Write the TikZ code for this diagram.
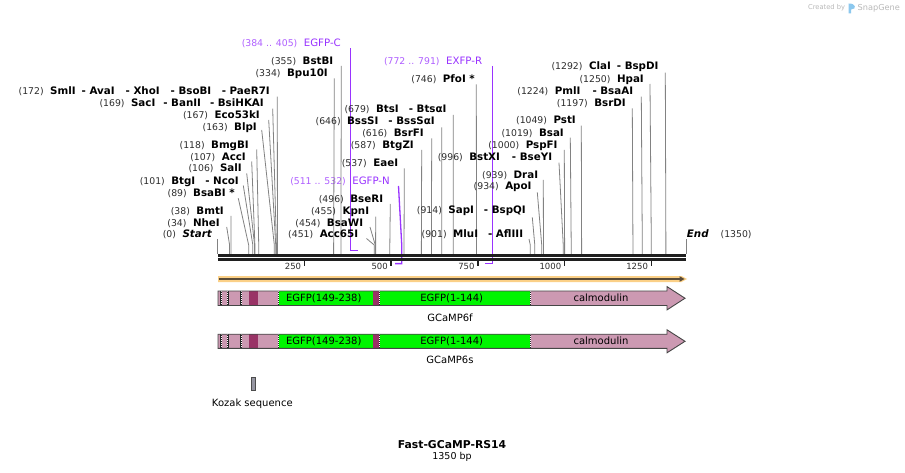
\documentclass[tikz,border=0pt]{standalone}
\usepackage{fontspec}
\setmainfont{DejaVu Sans}
\usetikzlibrary{calc}
\definecolor{lnGray}{RGB}{130,130,130}
\definecolor{numGray}{RGB}{45,45,45}
\definecolor{prim}{RGB}{153,51,255}
\definecolor{primnum}{RGB}{175,95,255}
\definecolor{featPink}{RGB}{204,153,178}
\definecolor{featMaroon}{RGB}{153,51,102}
\definecolor{featGreen}{RGB}{0,245,0}
\definecolor{featLine}{RGB}{70,70,70}
\definecolor{orangeBand}{RGB}{251,208,135}
\definecolor{bandDark}{RGB}{90,75,55}
\definecolor{kozakGray}{RGB}{150,150,162}
\definecolor{creditGray}{RGB}{185,185,185}
\definecolor{logoBlue}{RGB}{140,200,238}
\newcommand\numf[1]{{\fontsize{9.3}{10}\selectfont\color{numGray}#1}}
\newcommand\enzf[1]{{\fontsize{10.3}{12}\selectfont\bfseries #1}}
\newcommand\sep{\hspace{6.5pt}}
\newcommand\hsep{\hspace{10pt}}
\newcommand\bpx[1]{217.8+#1*0.34681}
\tikzset{
  enzlab/.style={anchor=east,inner sep=0pt,text height=7.5pt,text depth=0pt},
  enzline/.style={draw=lnGray,line width=0.8pt},
  primline/.style={draw=prim,line width=1.3pt},
  featout/.style={draw=featLine,line width=0.9pt},
  divider/.style={line width=1.6pt,draw=black!85},
  dividerw/.style={line width=0.7pt,draw=white,dash pattern=on 1pt off 1pt},
  ticklab/.style={anchor=east,inner sep=0pt,font=\fontsize{8.5}{10}\selectfont,text=numGray},
  featlab/.style={inner sep=0pt,font=\fontsize{10}{12}\selectfont}
}
\newcommand\enz[7]{%
  \node[enzlab] (L#1) at (#2,#3) {#4};
  \coordinate (S#1) at (#6,#7);
  \coordinate (K#1) at ({\bpx{#5}},245);
  \coordinate (R#1) at ({\bpx{#5}},254);
  \draw[enzline] (S#1) -- (K#1) -- (R#1);
}
\newcommand\featbar[2]{% top, bottom
  \fill[featPink] (218,#1) -- (667,#1) -- (667,#1-4.4) -- (685,#1/2+#2/2) -- (667,#2+4.4) -- (667,#2) -- (218,#2) -- cycle;
  \fill[featMaroon] (249.3,#1) rectangle (258.3,#2);
  \fill[featGreen] (278.3,#1) rectangle (373.3,#2);
  \fill[featMaroon] (373.3,#1) rectangle (379.3,#2);
  \fill[featGreen] (379.3,#1) rectangle (530.5,#2);
  \foreach \dx in {221,227.7,241,278.3,379.3,530.5}{
    \draw[divider] (\dx,#1) -- (\dx,#2);
    \draw[dividerw] (\dx,#1) -- (\dx,#2);
  }
  \draw[featout] (218,#1) -- (667,#1) -- (667,#1-4.4) -- (685,#1/2+#2/2) -- (667,#2+4.4) -- (667,#2) -- (218,#2) -- cycle;
}
\begin{document}
\begin{tikzpicture}[x=1pt,y=-1pt]
\useasboundingbox[fill=white] (0,0) rectangle (905,473);

% credit
\node[anchor=west,inner sep=0pt,text=creditGray,font=\fontsize{6.7}{8}\selectfont] (cred) at (808,8) {Created by};
\fill[logoBlue] (848.5,13.5) -- (848.5,3.5) .. controls (856,3) and (857,9.5) .. (851.2,9.5) -- (851.2,13.5) -- cycle;
\node[anchor=west,inner sep=0pt,text=creditGray,font=\fontsize{8.2}{9}\selectfont] (snap) at (857.5,8) {SnapGene};

% primers
\node[enzlab] (P1) at (341,43) {{\fontsize{9.3}{10}\selectfont\color{primnum}(384 .. 405)}\sep{\fontsize{10.2}{12}\selectfont\color{prim}EGFP-C}};
\coordinate (P1a) at (350.3,48.5);
\coordinate (P1b) at (350.3,250.7);
\coordinate (P1c) at (357.6,250.7);
\draw[primline] (P1a) -- (P1b) -- (P1c);

\node[enzlab] (P2) at (390,181) {{\fontsize{9.3}{10}\selectfont\color{primnum}(511 .. 532)}\sep{\fontsize{10.2}{12}\selectfont\color{prim}EGFP-N}};
\coordinate (P2a) at (398.5,186);
\coordinate (P2b) at (401.8,246);
\coordinate (P2c) at (401.8,263.6);
\coordinate (P2d) at (395,263.6);
\draw[primline] (P2a) -- (P2b) -- (P2c) -- (P2d);

\node[enzlab] (P3) at (482.3,61) {{\fontsize{9.3}{10}\selectfont\color{primnum}(772 .. 791)}\sep{\fontsize{10.2}{12}\selectfont\color{prim}EXFP-R}};
\coordinate (P3a) at (492.3,66);
\coordinate (P3b) at (492.3,263.6);
\coordinate (P3c) at (485.3,263.6);
\draw[primline] (P3a) -- (P3b) -- (P3c);

% enzymes
\enz{1}{212}{234}{\numf{(0)}\sep\enzf{\itshape Start}}{0}{217.8}{239.5}
\enz{2}{220}{222.7}{\numf{(34)}\sep\enzf{NheI}}{34}{226.7}{227}
\enz{3}{224}{211}{\numf{(38)}\sep\enzf{BmtI}}{38}{231}{216}
\enz{4}{235}{192.3}{\numf{(89)}\sep\enzf{BsaBI *}}{89}{238.3}{198.3}
\enz{5}{239}{180.7}{\numf{(101)}\sep\enzf{BtgI\hsep- NcoI}}{101}{243.3}{185.5}
\enz{6}{242}{168}{\numf{(106)}\sep\enzf{SalI}}{106}{246.7}{173.3}
\enz{7}{246}{156.7}{\numf{(107)}\sep\enzf{AccI}}{107}{251.7}{161.5}
\enz{8}{249}{145}{\numf{(118)}\sep\enzf{BmgBI}}{118}{256.7}{149.5}
\enz{9}{257}{126.7}{\numf{(163)}\sep\enzf{BlpI}}{163}{261.7}{130}
\enz{10}{260}{114.3}{\numf{(167)}\sep\enzf{Eco53kI}}{167}{268.7}{120}
\enz{11}{264}{102.3}{\numf{(169)}\sep\enzf{SacI\hspace{8pt}- BanII\hspace{9pt}- BsiHKAI}}{169}{272.7}{108.7}
\enz{12}{270}{90.7}{\numf{(172)}\sep\enzf{SmlI\hspace{6pt}- AvaI\hspace{11pt}- XhoI\hspace{11pt}- BsoBI\hspace{10.5pt}- PaeR7I}}{172}{277.3}{96.7}
\enz{13}{328}{72.7}{\numf{(334)}\sep\enzf{Bpu10I}}{334}{334.3}{78.3}
\enz{14}{333.5}{61}{\numf{(355)}\sep\enzf{BstBI}}{355}{341.3}{66}
\enz{15}{358.3}{234}{\numf{(451)}\sep\enzf{Acc65I}}{451}{366.5}{238.5}
\enz{16}{363.3}{222.3}{\numf{(454)}\sep\enzf{BsaWI}}{454}{370}{227}
\enz{17}{369.3}{210.7}{\numf{(455)}\sep\enzf{KpnI}}{455}{375.7}{216.7}
\enz{18}{383.3}{198.3}{\numf{(496)}\sep\enzf{BseRI}}{496}{390.3}{204}
\enz{19}{398.3}{162.7}{\numf{(537)}\sep\enzf{EaeI}}{537}{404.3}{168.3}
\enz{20}{414}{144.3}{\numf{(587)}\sep\enzf{BtgZI}}{587}{421.7}{150}
\enz{21}{424}{132.3}{\numf{(616)}\sep\enzf{BsrFI}}{616}{431.7}{138.3}
\enz{22}{435}{120.7}{\numf{(646)}\sep\enzf{BssSI\hsep- BssSαI}}{646}{441.7}{127.3}
\enz{23}{446.7}{108.7}{\numf{(679)}\sep\enzf{BtsI\hsep- BtsαI}}{679}{453.3}{115}
\enz{24}{475}{78.3}{\numf{(746)}\sep\enzf{PfoI *}}{746}{476.3}{84.3}
\enz{25}{523.3}{234}{\numf{(901)}\sep\enzf{MluI\hsep- AflIII}}{901}{529}{239}
\enz{26}{526}{210}{\numf{(914)}\sep\enzf{SapI\hsep- BspQI}}{914}{532.3}{217.3}
\enz{27}{531.7}{186}{\numf{(934)}\sep\enzf{ApoI}}{934}{537.3}{192.3}
\enz{28}{538.3}{174.3}{\numf{(939)}\sep\enzf{DraI}}{939}{543.3}{180}
\enz{29}{552.3}{156.7}{\numf{(996)}\sep\enzf{BstXI\hspace{12pt}- BseYI}}{996}{559}{162.7}
\enz{30}{557.7}{144.3}{\numf{(1000)}\sep\enzf{PspFI}}{1000}{564.3}{150}
\enz{31}{564}{132.3}{\numf{(1019)}\sep\enzf{BsaI}}{1019}{570.3}{137.7}
\enz{32}{576}{120}{\numf{(1049)}\sep\enzf{PstI}}{1049}{581.3}{125.7}
\enz{33}{626}{102.7}{\numf{(1197)}\sep\enzf{BsrDI}}{1197}{632.3}{108.3}
\enz{34}{633.3}{90.7}{\numf{(1224)}\sep\enzf{PmlI\hspace{12pt}- BsaAI}}{1224}{641.3}{96.7}
\enz{35}{644}{78.3}{\numf{(1250)}\sep\enzf{HpaI}}{1250}{650}{84}
\enz{36}{658.7}{65.7}{\numf{(1292)}\sep\enzf{ClaI\hspace{6pt}- BspDI}}{1292}{665.3}{72.7}

% End
\node[enzlab,anchor=west] (LEnd) at (686.7,234) {\enzf{\itshape End}\hspace{12pt}\numf{(1350)}};
\coordinate (SEnd) at (686,239.3);
\coordinate (REnd) at (686,254);
\draw[enzline] (SEnd) -- (REnd);

% ruler
\coordinate (rulL) at (217.8,0);
\coordinate (rulR) at (686.2,0);
\draw[line width=2.6pt,black!88] (rulL |- 0,255.3) -- (rulR |- 0,255.3);
\draw[line width=2.4pt,black!88] (rulL |- 0,259.6) -- (rulR |- 0,259.6);
\foreach \t in {250,500,750,1000,1250}{
  \draw[line width=1.5pt,black!88] ({\bpx{\t}},259) -- ({\bpx{\t}},266);
  \node[ticklab] (tick\t) at ({\bpx{\t}-3.2},266.3) {\t};
}

% orange strand arrow
\fill[orangeBand] (218,276) -- (681.5,276) -- (687,279) -- (681.5,282) -- (218,282) -- cycle;
\draw[bandDark,line width=1.6pt] (218.5,279) -- (680,279);
\fill[bandDark] (679.5,276.2) -- (684.5,279) -- (679.5,281.8) -- cycle;

% features
\featbar{291}{305.5}
\node[featlab] (f1a) at (323.8,298.3) {EGFP(149-238)};
\node[featlab] (f1b) at (451.7,298.3) {EGFP(1-144)};
\node[featlab] (f1c) at (601,298) {calmodulin};
\node[featlab] (f1) at (450,317.3) {GCaMP6f};

\featbar{334.2}{348.4}
\node[featlab] (f2a) at (323.8,341.3) {EGFP(149-238)};
\node[featlab] (f2b) at (451.7,341.3) {EGFP(1-144)};
\node[featlab] (f2c) at (601,341) {calmodulin};
\node[featlab] (f2) at (450,360.3) {GCaMP6s};

% Kozak
\draw[fill=kozakGray,draw=black!70,line width=0.6pt] (251.7,377.3) rectangle (255.3,390.7);
\node[featlab] (koz) at (252.3,403.3) {Kozak sequence};

% title
\node[inner sep=0pt,font=\fontsize{10.8}{12}\selectfont\bfseries] (title) at (452,445) {Fast-GCaMP-RS14};
\node[inner sep=0pt,font=\fontsize{9.5}{11}\selectfont] (len) at (452,456.5) {1350 bp};
\end{tikzpicture}
\end{document}
